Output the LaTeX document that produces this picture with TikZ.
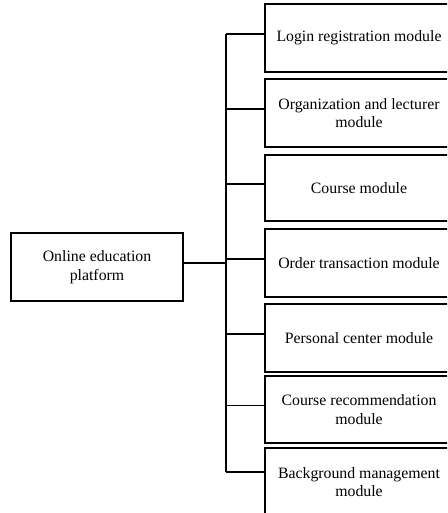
\documentclass[tikz,border=0pt]{standalone}
\usepackage{fontspec}
\setmainfont{Liberation Serif}
\begin{document}
\begin{tikzpicture}[x=1pt,y=-1pt,
  box/.style={draw=black, line width=1.4pt, rectangle, inner sep=0pt,
    align=center, font=\fontsize{15.8}{18.5}\selectfont},
  modbox/.style={box, minimum width=188pt},
  link/.style={draw=black, line width=1.4pt}]
  \useasboundingbox (0,0) rectangle (447,513);
  \clip (0,0) rectangle (447,513);

  % root of the hierarchy
  \node[box, minimum width=172pt, minimum height=68pt] (root) at (97,267)
    {Online education\\platform};

  % module boxes
  \node[modbox, minimum height=68pt] (m1) at (359,38)  {Login registration module};
  \node[modbox, minimum height=68pt] (m2) at (359,113) {Organization and lecturer\\module};
  \node[modbox, minimum height=66pt] (m3) at (359,188) {Course module};
  \node[modbox, minimum height=68pt] (m4) at (359,263) {Order transaction module};
  \node[modbox, minimum height=68pt] (m5) at (359,338) {Personal center module};
  \node[modbox, minimum height=67pt] (m6) at (359,409.5) {Course recommendation\\module};
  \node[modbox, minimum height=68pt] (m7) at (359,482) {Background management\\module};

  % trunk line
  \coordinate (ttop) at (226,34);
  \coordinate (tbot) at (226,472);
  \draw[link] (ttop) -- (tbot);

  % root to trunk
  \draw[link] ([yshift=4pt]root.east) -- ([yshift=4pt]root.east -| ttop);

  % trunk to modules
  \foreach \m in {m1,m2,m3,m4,m5,m6}
    \draw[link] ([yshift=4pt]\m.west) -- ([yshift=4pt]\m.west -| ttop);
  \draw[link] ([yshift=10pt]m7.west) -- ([yshift=10pt]m7.west -| ttop);
\end{tikzpicture}
\end{document}
